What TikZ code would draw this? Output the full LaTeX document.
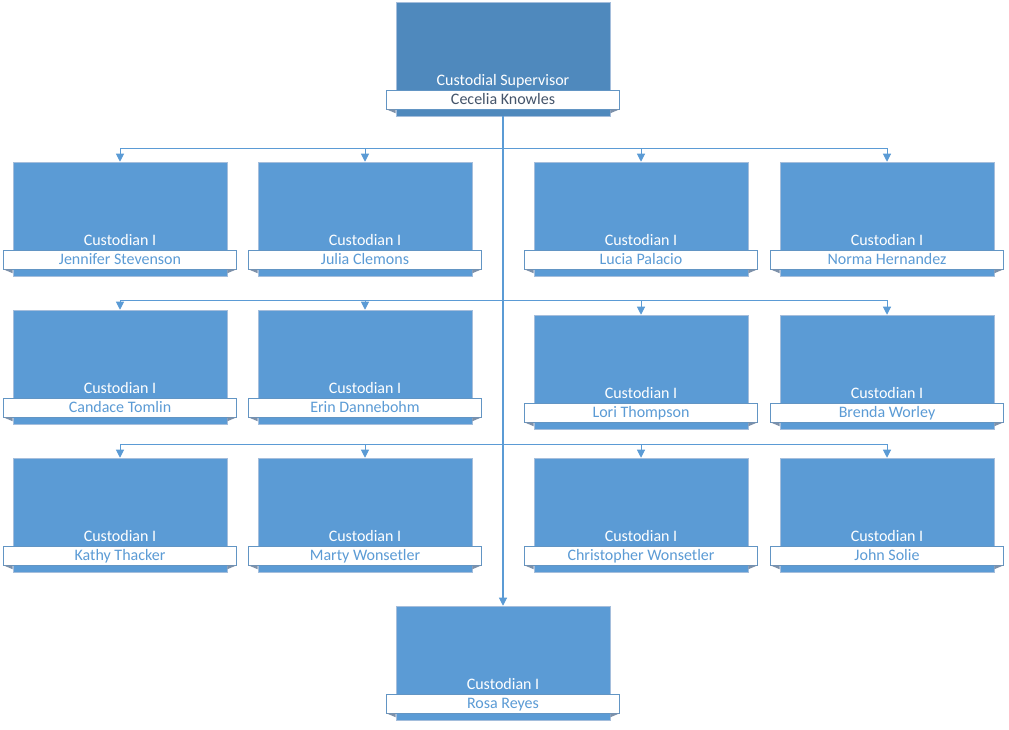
\documentclass[tikz,border=0pt]{standalone}
\usepackage{fontspec}
\setmainfont{Carlito}
\usetikzlibrary{arrows.meta,positioning,calc}
\definecolor{boxblue}{RGB}{91,155,213}
\definecolor{topblue}{RGB}{79,137,189}
\definecolor{edgeblue}{RGB}{165,190,220}
\definecolor{tabgray}{RGB}{125,145,170}
\definecolor{namedark}{RGB}{68,84,106}
\tikzset{
  post/.style={draw=edgeblue, fill=boxblue, minimum width=160.5pt, minimum height=85.5pt, inner sep=0pt},
  ribbon/.style={draw=boxblue!80!gray, fill=white, minimum width=174.75pt, minimum height=14.25pt,
    inner sep=0pt, text height=9pt, text depth=1.5pt, text=boxblue, font=\fontsize{12}{14}\selectfont},
  title/.style={text=white, inner sep=0pt, anchor=base, font=\fontsize{12}{14}\selectfont},
  trunk/.style={boxblue, line width=1.5pt},
  link/.style={boxblue, line width=0.75pt, -{Triangle[width=6pt,length=6pt]}},
}

\begin{document}
\begin{tikzpicture}[x=0.75pt,y=-0.75pt]
  \useasboundingbox (0,0) rectangle (1009,729);
  % supervisor
  \node[post, fill=topblue] (sup) at (503,59) {};
  \node[ribbon, text=namedark, above=5.25pt of sup.south] (supn) {Cecelia Knowles};
  \node[title] (supt) at ([yshift=3pt]supn.north) {Custodial Supervisor};
  \fill[tabgray] (supn.south west) -- (sup.west |- supn.south) -- ++(0,4) -- cycle;
  \fill[tabgray] (supn.south east) -- (sup.east |- supn.south) -- ++(0,4) -- cycle;
  % custodians
  \foreach \n/\cx/\ty/\who in {b1/120/162/Jennifer Stevenson, b2/365/162/Julia Clemons,
      b3/641/162/Lucia Palacio, b4/887/162/Norma Hernandez,
      b5/120/310/Candace Tomlin, b6/365/310/Erin Dannebohm,
      b7/641/315/Lori Thompson, b8/887/315/Brenda Worley,
      b9/120/458/Kathy Thacker, b10/365/458/Marty Wonsetler,
      b11/641/458/Christopher Wonsetler, b12/887/458/John Solie,
      b13/503/606/Rosa Reyes}
  {
    \node[post] (\n) at (\cx,\ty+57) {};
    \node[ribbon, above=5.25pt of \n.south] (\n n) {\who};
    \node[title] (\n t) at ([yshift=3pt]\n n.north) {Custodian I};
    \fill[tabgray] (\n n.south west) -- (\n.west |- \n n.south) -- ++(0,4) -- cycle;
    \fill[tabgray] (\n n.south east) -- (\n.east |- \n n.south) -- ++(0,4) -- cycle;
  }
  % connectors
  \coordinate (r1) at (0,148);
  \coordinate (r2) at (0,300);
  \coordinate (r3) at (0,444);
  \draw[trunk] (sup.south) -- ([yshift=6pt]b13.north);
  \draw[link] (sup.south |- r3) -- (b13.north);
  \foreach \n/\r in {b1/r1,b2/r1,b3/r1,b4/r1,b5/r2,b6/r2,b7/r2,b8/r2,b9/r3,b10/r3,b11/r3,b12/r3}
    \draw[link] (sup.south |- \r) -| (\n.north);
\end{tikzpicture}
\end{document}
